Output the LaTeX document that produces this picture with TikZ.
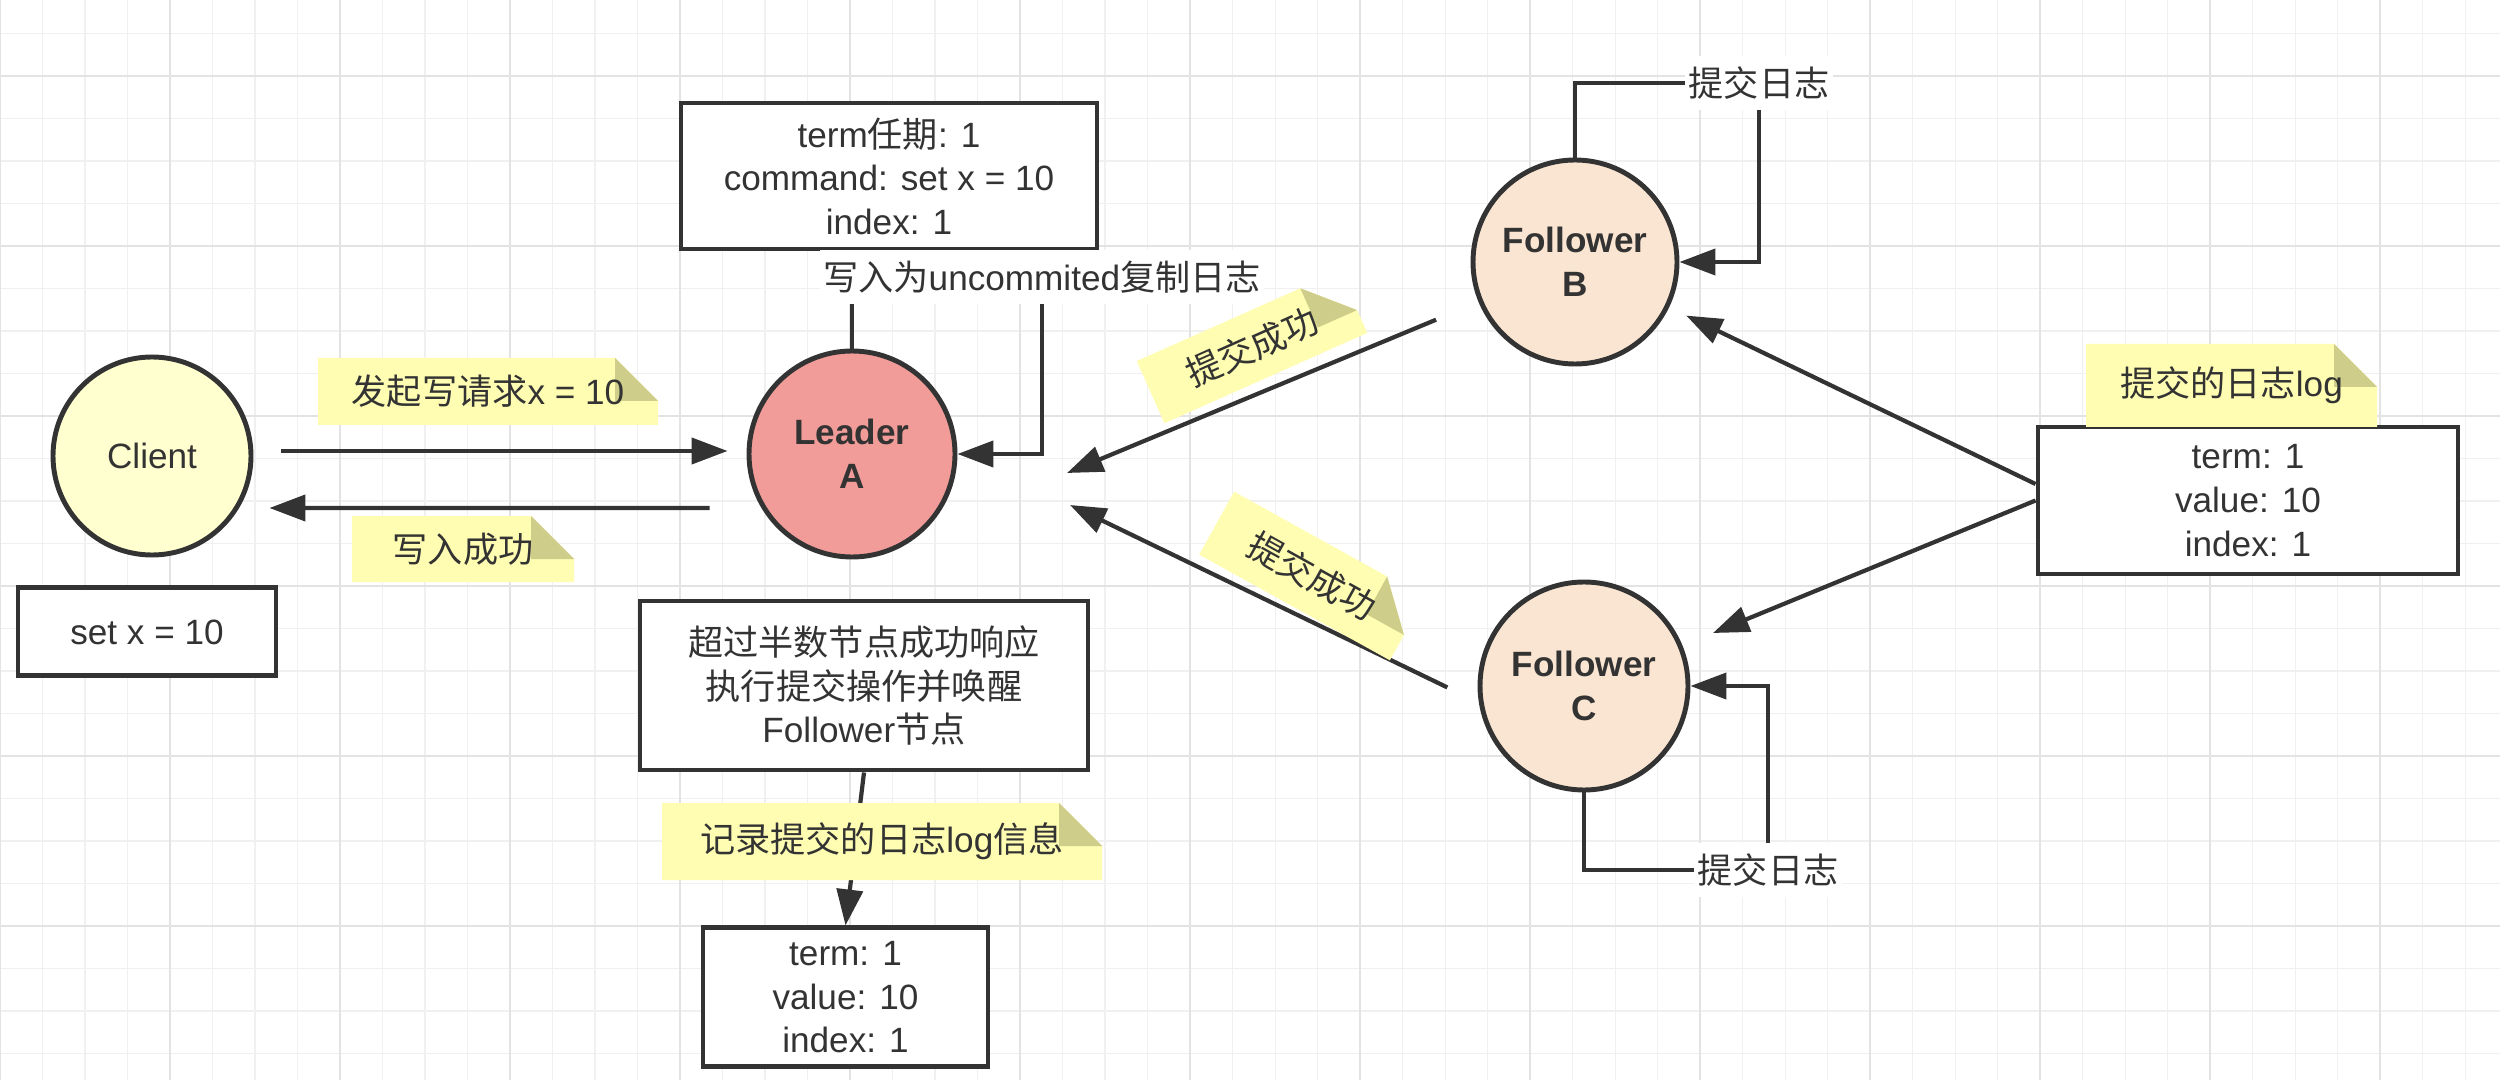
\documentclass[tikz,border=0pt]{standalone}
\usepackage{fontspec}
\setmainfont{Liberation Sans}
\newfontfamily\hanzi{Noto Sans CJK SC}
\usepackage{xcolor}
\usepackage{tikz}
\usetikzlibrary{positioning, arrows.meta}

\definecolor{ink}{HTML}{333333}
\definecolor{gridthinc}{HTML}{F0F0F0}
\definecolor{gridthickc}{HTML}{E3E3E3}
\definecolor{clientfill}{HTML}{FFFFD0}
\definecolor{leaderfill}{HTML}{F19C99}
\definecolor{followfill}{HTML}{FAE5D2}
\definecolor{memofill}{HTML}{FFFDB2}
\definecolor{memofoldc}{HTML}{CFCD8A}

\tikzset{
	peer/.style={circle, draw=ink, line width=1.4pt, minimum size=2.04cm, inner sep=0pt, align=center, text=ink},
	peerbold/.style={peer, font=\fontsize{10}{12.4}\selectfont\bfseries},
	logbox/.style={rectangle, draw=ink, line width=1.4pt, fill=white, align=center, text=ink, inner sep=0pt},
	arr/.style={draw=ink, line width=1.2pt, -{Triangle[length=0.36cm,width=0.26cm]}},
	looplabel/.style={fill=white, text=ink, inner xsep=1pt, inner ysep=3pt},
	gridthin/.style={draw=gridthinc, line width=0.3pt},
	gridthick/.style={draw=gridthickc, line width=0.45pt}
}

% name, centre, angle, width, height, text
\newcommand{\stickynote}[6]{%
	\begin{scope}[shift={#2}, rotate=#3]
		\fill[memofill] ({-#4/2},{-#5/2}) -- ({-#4/2},{#5/2}) -- ({#4/2-0.43},{#5/2})
			-- ({#4/2},{#5/2-0.43}) -- ({#4/2},{-#5/2}) -- cycle;
		\fill[memofoldc] ({#4/2-0.43},{#5/2}) -- ({#4/2-0.43},{#5/2-0.43})
			-- ({#4/2},{#5/2-0.43}) -- cycle;
		\node[transform shape, text=ink] (#1) at (0,0) {#6};
	\end{scope}}

\begin{document}
\begin{tikzpicture}[font=\fontsize{10}{12.4}\selectfont]
				\useasboundingbox (0,0) rectangle (25,-10.8);
				\fill[white] (0,0) rectangle (25,-10.8);
				\foreach \gx in {0,...,58}
					\draw[gridthin] (\gx*0.425,0) -- (\gx*0.425,-10.8);
				\foreach \gy in {0,...,24}
					\draw[gridthin] (0,-0.335-\gy*0.425) -- (25,-0.335-\gy*0.425);
				\foreach \gx in {0,...,14}
					\draw[gridthick] (\gx*1.7,0) -- (\gx*1.7,-10.8);
				\foreach \gy in {0,...,5}
					\draw[gridthick] (0,-0.76-\gy*1.7) -- (25,-0.76-\gy*1.7);

				\node[peer, fill=clientfill, minimum size=1.98cm] (client) at (1.52,-4.56) {Client};
				\node[peerbold, fill=leaderfill, minimum size=2.06cm] (leader) at (8.52,-4.54) {Leader\\A};
				\node[peerbold, fill=followfill] (folB) at (15.75,-2.62) {Follower\\B};
				\node[peerbold, fill=followfill, minimum size=2.08cm] (folC) at (15.84,-6.86) {Follower\\C};

				\node[logbox, minimum width=2.58cm, minimum height=0.88cm, below=0.28cm of client, xshift=-0.05cm] (setx) {set x = 10};
				\node[logbox, minimum width=4.16cm, minimum height=1.46cm] (entry) at (8.89,-1.76) {term{\hanzi 任期}: 1\\command: set x = 10\\index: 1};
				\node[logbox, minimum width=4.48cm, minimum height=1.69cm] (quorum) at (8.64,-6.855) {{\hanzi 超过半数节点成功响应}\\{\hanzi 执行提交操作并唤醒}\\Follower{\hanzi 节点}};
				\node[logbox, minimum width=2.85cm, minimum height=1.39cm, below=1.53cm of quorum, xshift=-0.185cm] (leaderlog) {term: 1\\value: 10\\index: 1};
				\node[logbox, minimum width=4.20cm, minimum height=1.47cm] (commitlog) at (22.48,-5.005) {term: 1\\value: 10\\index: 1};

				\coordinate (uncommitpt) at (10.42,-2.77);
				\coordinate (cmtBpt) at (17.59,-0.83);
				\coordinate (cmtCpt) at (17.68,-8.70);
				\coordinate (ackB) at (10.67,-4.73);
				\coordinate (ackC) at (10.70,-5.05);

				\draw[arr, shorten <=0.28cm, shorten >=0.19cm] ([yshift=0.05cm]client.east) -- ([yshift=0.03cm]leader.west);
				\draw[arr, shorten <=0.37cm, shorten >=0.16cm] ([yshift=-0.54cm]leader.west) -- ([yshift=-0.52cm]client.east);
				\draw[arr] (leader.north) |- (uncommitpt) |- (leader.east);
				\draw[arr] (folB.north) |- (cmtBpt) |- (folB.east);
				\draw[arr] (folC.south) |- (cmtCpt) |- (folC.east);
				\draw[arr, shorten <=0.46cm] (folB) -- (ackB);
				\draw[arr, shorten <=0.35cm] (folC.189) -- (ackC);
				\draw[arr, shorten >=0.19cm] ([yshift=0.165cm]commitlog.west) -- (folB);
				\draw[arr, shorten >=0.33cm] (commitlog.west) -- (folC);
				\draw[arr] (quorum.south) -- (leaderlog.north);

				\node[looplabel] (uncommit) at (uncommitpt) {{\hanzi 写入为}uncommited{\hanzi 复制日志}};
				\node[looplabel] (cmtB) at (cmtBpt) {\hanzi 提交日志};
				\node[looplabel] (cmtC) at (cmtCpt) {\hanzi 提交日志};

				\stickynote{reqmemo}{(4.88,-3.915)}{0}{3.40}{0.67}{{\hanzi 发起写请求}x = 10}
				\stickynote{okmemo}{(4.63,-5.49)}{0}{2.22}{0.66}{\hanzi 写入成功}
				\stickynote{recmemo}{(8.82,-8.415)}{0}{4.40}{0.77}{{\hanzi 记录提交的日志}log{\hanzi 信息}}
				\stickynote{logmemo}{(22.315,-3.855)}{0}{2.91}{0.83}{{\hanzi 提交的日志}log}
				\stickynote{ackBmemo}{(12.52,-3.47)}{24}{2.22}{0.68}{\hanzi 提交成功}
				\stickynote{ackCmemo}{(13.12,-5.76)}{-29}{2.18}{0.72}{\hanzi 提交成功}
			\end{tikzpicture}
\end{document}
